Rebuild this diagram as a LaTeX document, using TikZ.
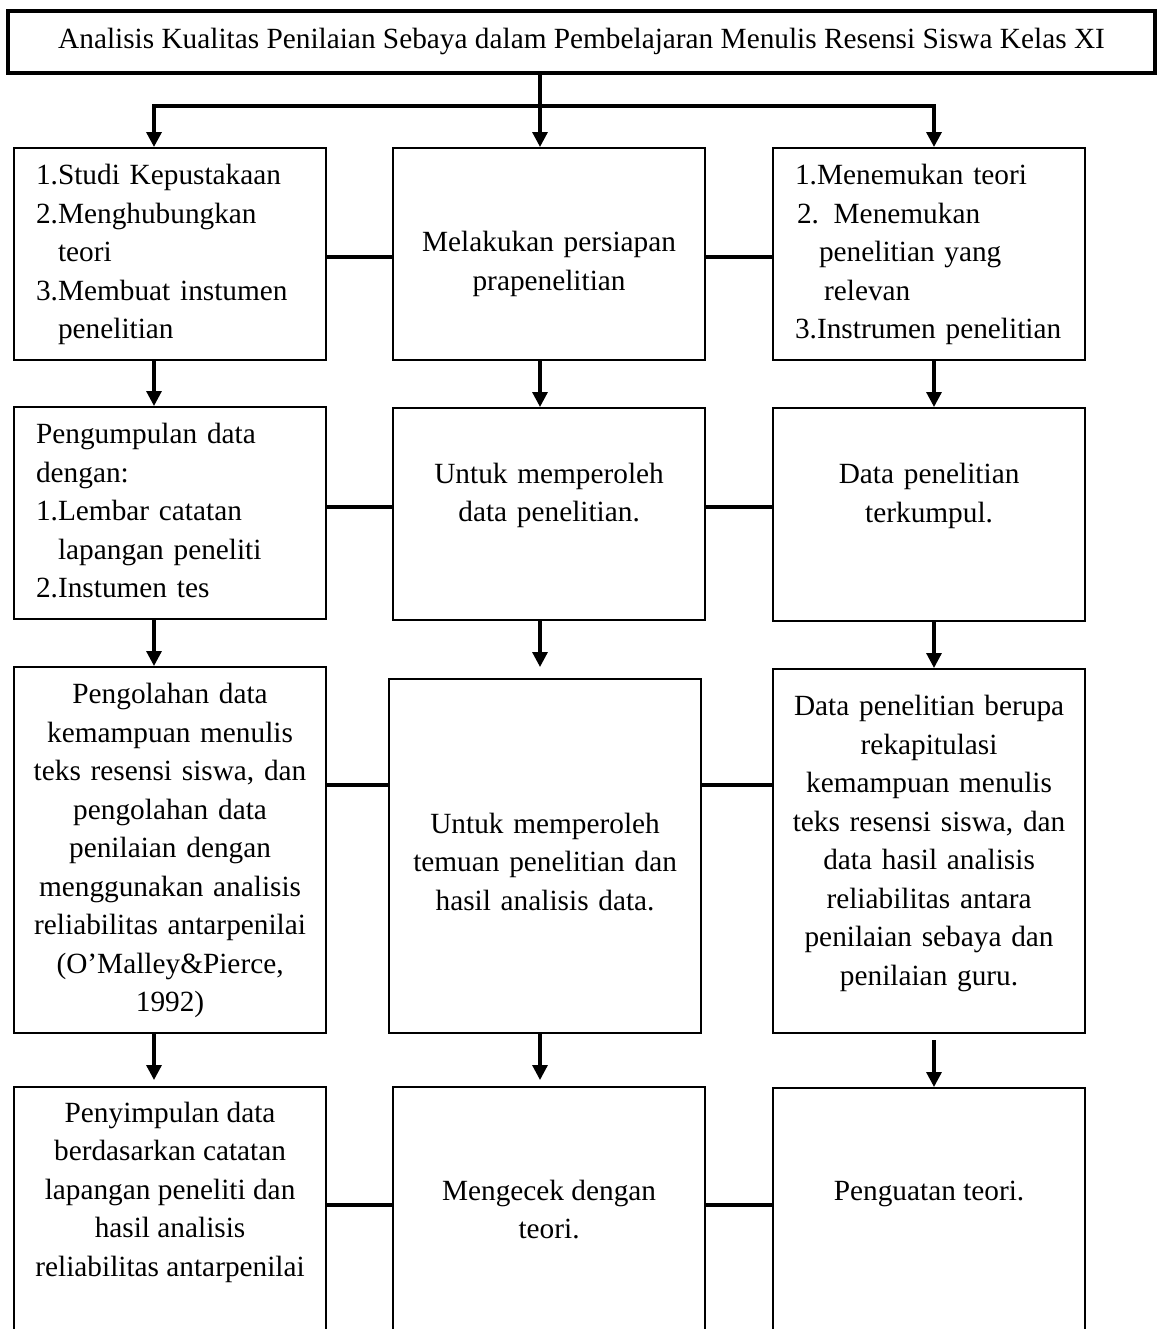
\documentclass[tikz,border=0pt]{standalone}
\usepackage{fontspec}
\setmainfont{Liberation Serif}
\usetikzlibrary{arrows.meta}
\newdimen\pxu \pxu=0.4675pt
% text of an open box at the bottom: starts at the top, box runs off the page
\newcommand{\opentext}[2]{\parbox[t][300\pxu][t]{284\pxu}{\centering\rule{0pt}{#1}#2}}

\begin{document}
\begin{tikzpicture}[x=0.4675pt, y=-0.4675pt,
  every node/.style={font=\fontsize{13.7}{18}\selectfont},
  box/.style={draw, line width=1pt, anchor=north west, inner xsep=14\pxu, inner ysep=0pt,
    text width=284\pxu, align=center, execute at begin node=\strut, execute at end node=\strut},
  listbox/.style={box, align=left, inner xsep=22\pxu, text width=268\pxu},
  openbox/.style={draw, line width=1pt, anchor=north west, inner xsep=14\pxu, inner ysep=8\pxu},
  link/.style={line width=1.6pt},
  arr/.style={line width=1.5pt, -{Triangle[width=7pt,length=7pt]}}]
\useasboundingbox (0,0) rectangle (1158,1329);
\clip (0,0) rectangle (1158,1329);

%----- judul -----
\node[draw, line width=1.9pt, minimum width=1147\pxu, minimum height=62\pxu, inner sep=0pt] (title) at (581.5,42)
  {Analisis Kualitas Penilaian Sebaya dalam Pembelajaran Menulis Resensi Siswa Kelas XI};

% kolom dan baris penghubung
\coordinate (colL) at (154,0);
\coordinate (colM) at (540,0);
\coordinate (colR) at (934,0);
\coordinate (bar) at (0,106);
\coordinate (row1) at (0,257);
\coordinate (row2) at (0,507);
\coordinate (row3) at (0,785);
\coordinate (row4) at (0,1205);

%----- baris 1 -----
\node[listbox, minimum height=212\pxu] (l1) at (13,147)
  {1.Studi Kepustakaan\\2.Menghubungkan\\\hspace*{22\pxu}teori\\3.Membuat instumen\\\hspace*{22\pxu}penelitian};
\node[box, minimum height=212\pxu] (m1) at (392,147) {\rule{0pt}{45\pxu}Melakukan persiapan\\prapenelitian};
\node[listbox, minimum height=212\pxu] (r1) at (772,147)
  {1.Menemukan teori\\\hspace*{2\pxu}2. Menemukan\\\hspace*{24\pxu}penelitian yang\\\hspace*{29\pxu}relevan\\\mbox{3.Instrumen penelitian}};

%----- baris 2 -----
\node[listbox, minimum height=212\pxu] (l2) at (13,406)
  {Pengumpulan data\\dengan:\\1.Lembar catatan\\\hspace*{22\pxu}lapangan peneliti\\2.Instumen tes};
\node[box, minimum height=212\pxu] (m2) at (392,407) {Untuk memperoleh\\data penelitian.\\\mbox{}};
\node[box, minimum height=213\pxu] (r2) at (772,407) {Data penelitian\\terkumpul.\\\mbox{}};

%----- baris 3 -----
\node[box, minimum height=366\pxu] (l3) at (13,666)
  {Pengolahan data\\kemampuan menulis\\teks resensi siswa, dan\\pengolahan data\\penilaian dengan\\menggunakan analisis\\reliabilitas antarpenilai\\(O’Malley\&Pierce,\\1992)};
\node[box, minimum height=354\pxu] (m3) at (388,678)
  {\rule{0pt}{43\pxu}Untuk memperoleh\\temuan penelitian dan\\hasil analisis data.};
\node[box, minimum height=364\pxu] (r3) at (772,668)
  {Data penelitian berupa\\rekapitulasi\\kemampuan menulis\\teks resensi siswa, dan\\data hasil analisis\\reliabilitas antara\\penilaian sebaya dan\\penilaian guru.\rule[-28\pxu]{0pt}{0pt}};

%----- baris 4 (terpotong di bawah) -----
\node[openbox] (l4) at (13,1086)
  {\opentext{27\pxu}{Penyimpulan data\\berdasarkan catatan\\lapangan peneliti dan\\hasil analisis\\reliabilitas antarpenilai}};
\node[openbox] (m4) at (392,1086) {\opentext{105\pxu}{Mengecek dengan\\teori.}};
\node[openbox] (r4) at (772,1087) {\opentext{104\pxu}{Penguatan teori.}};

%----- panah -----
\draw[arr] (colM |- title.south) -- (colM |- m1.north);
\draw[link, {Triangle[width=7pt,length=7pt]}-{Triangle[width=7pt,length=7pt]}]
  (colL |- l1.north) -- (colL |- bar) -- (colR |- bar) -- (colR |- r1.north);
\draw[arr] (colL |- l1.south) -- (colL |- l2.north);
\draw[arr] (colM |- m1.south) -- (colM |- m2.north);
\draw[arr] (colR |- r1.south) -- (colR |- r2.north);
\draw[arr] (colL |- l2.south) -- (colL |- l3.north);
\draw[arr, shorten >=11\pxu] (colM |- m2.south) -- (colM |- m3.north);
\draw[arr] (colR |- r2.south) -- (colR |- r3.north);
\draw[arr, shorten >=6\pxu] (colL |- l3.south) -- (colL |- l4.north);
\draw[arr, shorten >=6\pxu] (colM |- m3.south) -- (colM |- m4.north);
\draw[arr, shorten <=6\pxu] (colR |- r3.south) -- (colR |- r4.north);

%----- garis penghubung -----
\draw[link] (l1.east |- row1) -- (m1.west |- row1);
\draw[link] (m1.east |- row1) -- (r1.west |- row1);
\draw[link] (l2.east |- row2) -- (m2.west |- row2);
\draw[link] (m2.east |- row2) -- (r2.west |- row2);
\draw[link] (l3.east |- row3) -- (m3.west |- row3);
\draw[link] (m3.east |- row3) -- (r3.west |- row3);
\draw[link] (l4.east |- row4) -- (m4.west |- row4);
\draw[link] (m4.east |- row4) -- (r4.west |- row4);
\end{tikzpicture}
\end{document}
